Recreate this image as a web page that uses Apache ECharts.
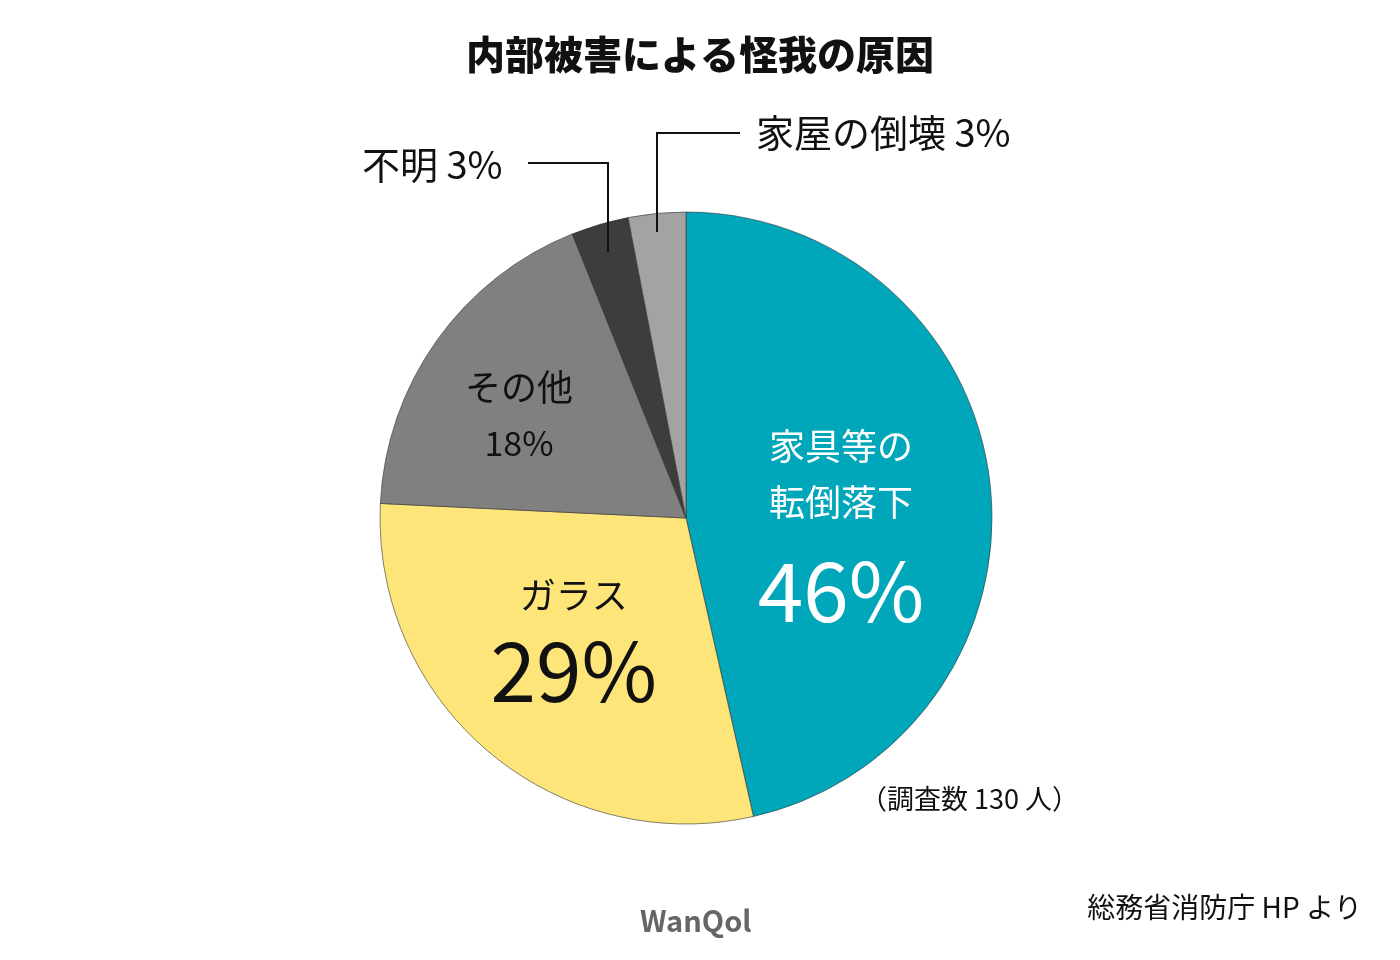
<!DOCTYPE html>
<html><head><meta charset="utf-8">
<script src="https://cdn.jsdelivr.net/npm/echarts@6/dist/echarts.min.js"></script>
<style>html,body{margin:0;background:#fff}#c{width:1400px;height:960px}</style>
</head><body><div id="c"></div>
<script>
const names = ['家具等の\n転倒落下', 'ガラス', 'その他', '不明', '家屋の倒壊'];
const values = [46, 29, 18, 3, 3];
const colors = ['#00a6b9', '#fde57a', '#808080', '#3d3d3d', '#a3a3a3'];
const font = '"Noto Sans CJK JP", "Noto Sans", sans-serif';

const chart = echarts.init(document.getElementById('c'));
const labelFor = i => {
  if (i === 0) return { formatter: '{n|{b}}\n{p|{c}%}', rich: { n: { fontSize: 36, lineHeight: 56, color: '#fff', fontFamily: font }, p: { fontSize: 82, lineHeight: 120, color: '#fff', fontFamily: font } } };
  if (i === 1) return { formatter: '{n|{b}}\n{p|{c}%}', rich: { n: { fontSize: 36, lineHeight: 50, color: '#111', fontFamily: font }, p: { fontSize: 82, lineHeight: 100, color: '#111', fontFamily: font } } };
  if (i === 2) return { formatter: '{n|{b}}\n{p|{c}%}', rich: { n: { fontSize: 36, lineHeight: 56, color: '#111', fontFamily: font }, p: { fontSize: 34, lineHeight: 56, color: '#111', fontFamily: font } } };
  return { show: false };
};
chart.setOption({
  title: { text: '内部被害による怪我の原因', left: 'center', top: 30, textStyle: { fontSize: 39, fontWeight: 900, color: '#111', fontFamily: font } },
  series: [{
    type: 'pie', center: [686, 518], radius: 306, startAngle: 90, clockwise: true,
    silent: true, labelLine: { show: false },
    label: { position: 'inside' },
    itemStyle: { borderColor: '#333', borderWidth: 0.6 },
    data: names.map((n, i) => ({ name: n, value: values[i], itemStyle: { color: colors[i] }, label: labelFor(i) })),
    labelLayout: p => p.dataIndex === 0 ? { dy: 34 } : p.dataIndex === 1 ? { dx: -12, dy: 8 } : p.dataIndex === 2 ? { dx: -40, dy: -12 } : {}
  }],
  graphic: [
    { type: 'polyline', z: 100, shape: { points: [[608, 252], [608, 163], [528, 163]] }, style: { stroke: '#111', lineWidth: 2, fill: null } },
    { type: 'polyline', z: 100, shape: { points: [[657, 232], [657, 133], [740, 133]] }, style: { stroke: '#111', lineWidth: 2, fill: null } },
    { type: 'text', z: 100, left: 362, top: 146, style: { text: '不明 3%', font: '38px ' + font, fill: '#111' } },
    { type: 'text', z: 100, left: 756, top: 114, style: { text: '家屋の倒壊 3%', font: '38px ' + font, fill: '#111' } },
    { type: 'text', z: 100, left: 860, top: 785, style: { text: '（調査数 130 人）', font: '27px ' + font, fill: '#111' } },
    { type: 'text', z: 100, right: 38, top: 893, style: { text: '総務省消防庁 HP より', font: '28px ' + font, fill: '#111' } },
    { type: 'text', z: 100, left: 640, top: 906, style: { text: 'WanQol', font: 'bold 29px ' + font, fill: '#666' } }
  ]
});
</script></body></html>
